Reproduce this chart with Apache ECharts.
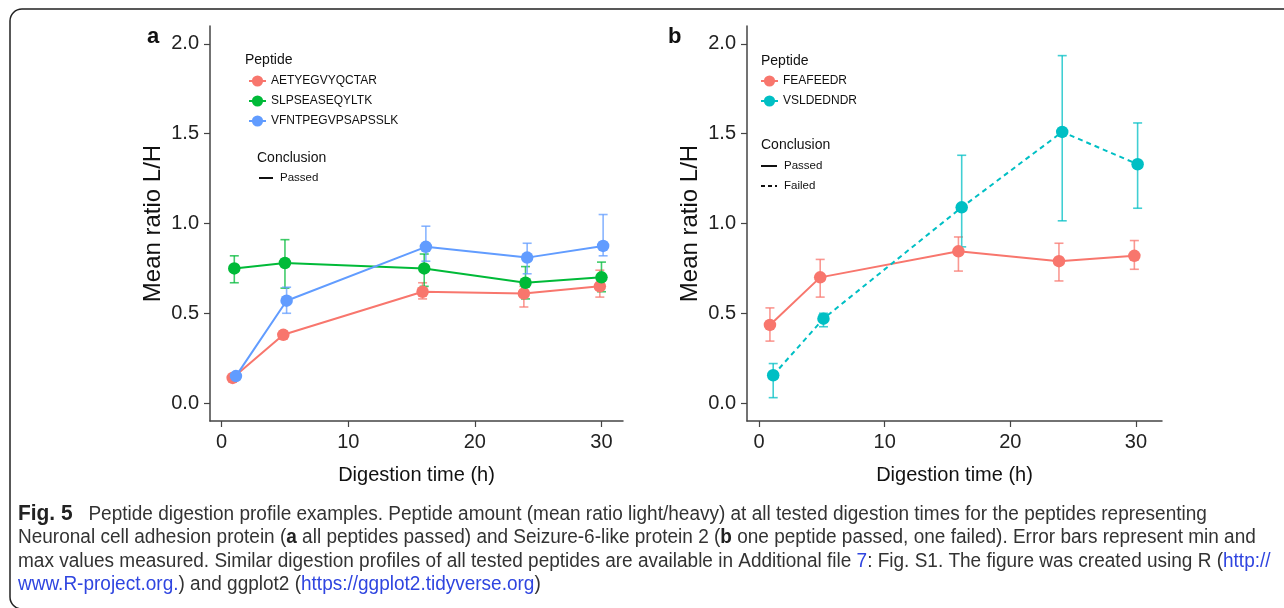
<!DOCTYPE html>
<html>
<head>
<meta charset="utf-8">
<script src="https://cdn.jsdelivr.net/npm/echarts@6/dist/echarts.min.js"></script>
<style>
html,body{margin:0;padding:0;background:#fff;}
#chart{width:1284px;height:608px;}
</style>
</head>
<body>
<div id="chart"></div>
<script>
// ---- data ----
const hours = [1, 5, 16, 24, 30];
const xTicks = [0, 10, 20, 30];
const yTicks = [0, 0.5, 1.0, 1.5, 2.0];

// panel a
const peptidesA = ['AETYEGVYQCTAR', 'SLPSEASEQYLTK', 'VFNTPEGVPSAPSSLK'];
const aetyMean = [0.14, 0.38, 0.62, 0.61, 0.65];
const aetyMin  = [0.13, 0.36, 0.58, 0.535, 0.59];
const aetyMax  = [0.15, 0.40, 0.67, 0.65, 0.74];
const slpsMean = [0.75, 0.78, 0.75, 0.67, 0.70];
const slpsMin  = [0.67, 0.64, 0.65, 0.58, 0.62];
const slpsMax  = [0.82, 0.91, 0.83, 0.76, 0.785];
const vfntMean = [0.15, 0.57, 0.87, 0.81, 0.875];
const vfntMin  = [0.14, 0.50, 0.79, 0.72, 0.82];
const vfntMax  = [0.16, 0.645, 0.985, 0.89, 1.05];

// panel b
const peptidesB = ['FEAFEEDR', 'VSLDEDNDR'];
const feafMean = [0.435, 0.70, 0.845, 0.79, 0.82];
const feafMin  = [0.345, 0.59, 0.735, 0.68, 0.745];
const feafMax  = [0.53, 0.80, 0.925, 0.89, 0.905];
const vsldMean = [0.155, 0.47, 1.09, 1.51, 1.33];
const vsldMin  = [0.03, 0.425, 0.87, 1.015, 1.085];
const vsldMax  = [0.22, 0.50, 1.38, 1.935, 1.56];

const conclusionsB = ['Passed', 'Failed'];

// ---- style ----
const FONT = '"Liberation Sans", Arial, Helvetica, sans-serif';
const CAPFONT = '"Liberation Sans Narrow", "Liberation Sans", Arial, sans-serif';
const RED = '#F8766D', GREEN = '#00BA38', BLUE = '#619CFF', CYAN = '#00BFC4';

function errRender(params, api) {
  const x = api.value(0), lo = api.value(1), hi = api.value(2);
  const a = api.coord([x, lo]), b = api.coord([x, hi]);
  const w = 4.5;
  const st = { stroke: api.visual('color'), lineWidth: 1.6, opacity: 0.75 };
  return { type: 'group', children: [
    { type: 'line', shape: { x1: a[0], y1: a[1], x2: b[0], y2: b[1] }, style: st },
    { type: 'line', shape: { x1: a[0]-w, y1: a[1], x2: a[0]+w, y2: a[1] }, style: st },
    { type: 'line', shape: { x1: b[0]-w, y1: b[1], x2: b[0]+w, y2: b[1] }, style: st }
  ]};
}

function mk(grid, name, color, mean, lo, hi, dodge, dashed) {
  const pts = hours.map((h, i) => [h + dodge, mean[i]]);
  const errs = hours.map((h, i) => [h + dodge, lo[i], hi[i]]);
  return [
    { type: 'custom', name: name + ' err', xAxisIndex: grid, yAxisIndex: grid,
      renderItem: errRender, itemStyle: { color: color }, data: errs, z: 2, silent: true },
    { type: 'line', name: name, xAxisIndex: grid, yAxisIndex: grid, data: pts,
      symbol: 'circle', symbolSize: 12.5, showSymbol: true,
      itemStyle: { color: color }, lineStyle: { color: color, width: 2, type: dashed ? [5, 4] : 'solid' },
      z: 3, animation: false }
  ];
}

function xAx(grid, min, max) {
  return { type: 'value', gridIndex: grid, min: min, max: max,
    splitLine: { show: false },
    axisLine: { onZero: false, lineStyle: { color: '#444', width: 1.5 } },
    axisTick: { customValues: xTicks, length: 6, lineStyle: { color: '#444', width: 1.2 } },
    axisLabel: { customValues: xTicks, color: '#222', fontSize: 20, fontFamily: FONT, margin: 11 },
    name: 'Digestion time (h)', nameLocation: 'middle', nameGap: 44,
    nameTextStyle: { color: '#111', fontSize: 20, fontFamily: FONT } };
}
function yAx(grid) {
  return { type: 'value', gridIndex: grid, min: -0.1, max: 2.1,
    splitLine: { show: false },
    axisLine: { onZero: false, lineStyle: { color: '#444', width: 1.5 } },
    axisTick: { customValues: yTicks, length: 6, lineStyle: { color: '#444', width: 1.2 } },
    axisLabel: { customValues: yTicks, color: '#222', fontSize: 20, fontFamily: FONT, margin: 11,
      formatter: v => v.toFixed(1) },
    name: 'Mean ratio L/H', nameLocation: 'middle', nameGap: 45,
    nameTextStyle: { color: '#111', fontSize: 24, fontFamily: FONT } };
}

const series = [].concat(
  mk(0, peptidesA[0], RED, aetyMean, aetyMin, aetyMax, -0.13, false),
  mk(0, peptidesA[1], GREEN, slpsMean, slpsMin, slpsMax, 0, false),
  mk(0, peptidesA[2], BLUE, vfntMean, vfntMin, vfntMax, 0.13, false),
  mk(1, peptidesB[0], RED, feafMean, feafMin, feafMax, -0.13, false),
  mk(1, peptidesB[1], CYAN, vsldMean, vsldMin, vsldMax, 0.13, true)
);

function legendComp(names, left) {
  return { data: names, orient: 'vertical', left: left, top: 75, itemWidth: 17, itemHeight: 14,
    itemGap: 8, lineStyle: { type: 'solid', width: 2 },
    textStyle: { fontSize: 12, color: '#111', fontFamily: FONT },
    padding: 0, selectedMode: false };
}

function txt(x, y, s, size, weight, align) {
  return { type: 'text', x: x, y: y, style: { text: s, fontSize: size, fontWeight: weight || 'normal',
    fill: '#111', fontFamily: FONT, align: align || 'left', verticalAlign: 'middle' } };
}
function seg(x1, x2, y, dashed) {
  return { type: 'line', shape: { x1: x1, y1: y, x2: x2, y2: y },
    style: { stroke: '#111', lineWidth: 2, lineDash: dashed ? [4, 3] : null } };
}

const richCap = {
  b: { fontWeight: 'bold', fontSize: 22, fill: '#222', fontFamily: CAPFONT },
  k: { fontWeight: 'bold', fontSize: 20, fill: '#222', fontFamily: CAPFONT },
  l: { fontSize: 20, fill: '#2f45e0', fontFamily: CAPFONT }
};
function capLine(y, s) {
  return { type: 'text', x: 18, y: y, scaleX: 0.95, style: { text: s, rich: richCap, fontSize: 20, fill: '#333',
    fontFamily: CAPFONT, verticalAlign: 'middle' } };
}

const caption = [
  '{b|Fig. 5}   Peptide digestion profile examples. Peptide amount (mean ratio light/heavy) at all tested digestion times for the peptides representing',
  'Neuronal cell adhesion protein ({k|a} all peptides passed) and Seizure-6-like protein 2 ({k|b} one peptide passed, one failed). Error bars represent min and',
  'max values measured. Similar digestion profiles of all tested peptides are available in Additional file {l|7}: Fig. S1. The figure was created using R ({l|http://}',
  '{l|www.R-project.org.}) and ggplot2 ({l|https://ggplot2.tidyverse.org})'
];

const chart = echarts.init(document.getElementById('chart'), null, { renderer: 'canvas' });
chart.setOption({
  animation: false,
  backgroundColor: '#fff',
  grid: [
    { left: 210, top: 26, width: 413, height: 395 },
    { left: 747, top: 26, width: 415, height: 395 }
  ],
  xAxis: [xAx(0, -0.92, 31.7), xAx(1, -0.955, 32.07)],
  yAxis: [yAx(0), yAx(1)],
  legend: [legendComp(peptidesA, 248), legendComp(peptidesB, 760)],
  series: series,
  graphic: [
    { type: 'rect', shape: { x: 10, y: 9, width: 1300, height: 600, r: 12 },
      style: { fill: 'none', stroke: '#222', lineWidth: 1.5 }, z: -1 },
    txt(147, 37, 'a', 22, 'bold'),
    txt(668, 37, 'b', 22, 'bold'),
    txt(245, 60, 'Peptide', 14),
    txt(257, 158, 'Conclusion', 14),
    seg(259, 273, 178, false),
    txt(280, 178, 'Passed', 11.5),
    txt(761, 61, 'Peptide', 14),
    txt(761, 145, 'Conclusion', 14),
    seg(761, 777, 166, false),
    txt(784, 166, conclusionsB[0], 11.5),
    seg(761, 777, 186, true),
    txt(784, 186, conclusionsB[1], 11.5),
    capLine(514, caption[0]),
    capLine(537, caption[1]),
    capLine(561, caption[2]),
    capLine(584, caption[3])
  ]
});
</script>
</body>
</html>
